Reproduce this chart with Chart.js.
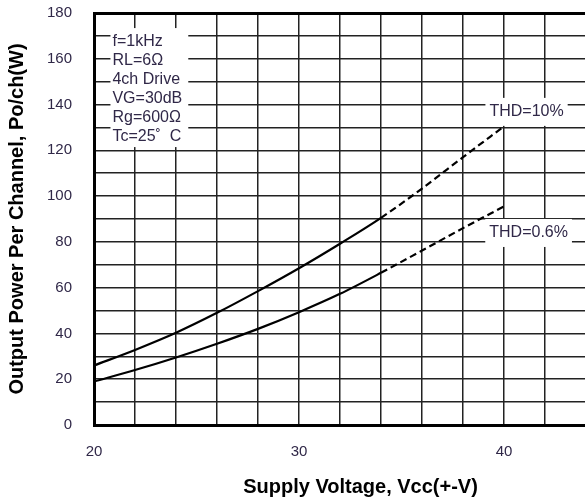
<!DOCTYPE html>
<html>
<head>
<meta charset="utf-8">
<script src="https://cdn.jsdelivr.net/npm/chart.js@4/dist/chart.umd.min.js"></script>
<style>
  html, body { margin: 0; padding: 0; background: #fff; overflow: hidden; }
  #wrap { position: absolute; left: 0; top: 0; width: 640px; height: 501px; }
</style>
</head>
<body>
<div id="wrap"><canvas id="powerChart" width="640" height="501"></canvas></div>
<script>
// Output power vs supply voltage
const voltage = [20, 22, 24, 26, 28, 30, 32, 34, 36, 38, 40];
const thd10 = [26, 32.8, 40.3, 49, 58.5, 68.5, 79.2, 90.5, 103.3, 117, 130.5];
const thd06 = [19, 24, 29.5, 35.5, 42, 49.3, 57.3, 66.5, 76.2, 86, 95.5];
const conditions = ['f=1kHz', 'RL=6\u03A9', '4ch Drive', 'VG=30dB', 'Rg=600\u03A9', 'Tc=25\u02DA  C'];
const curveLabels = ['THD=10%', 'THD=0.6%'];

const FONT = '"Liberation Sans", Arial, sans-serif';
const TEXT = '#302848';

// dashed part of the curves (measured region)
const dashFrom = 34;

function toPoints(ys) {
    return voltage.map((v, i) => ({ x: v, y: ys[i] }));
}

function curve(label, ys) {
    return {
        label: label,
        data: toPoints(ys),
        borderColor: '#000',
        borderWidth: 2.2,
        pointRadius: 0,
        fill: false,
        cubicInterpolationMode: 'monotone',
        segment: {
            borderDash: c => c.p0.parsed.x >= dashFrom ? [7, 4] : undefined
        }
    };
}

// text notes with white background over the grid
const notesPlugin = {
    id: 'notes',
    beforeDatasetsDraw(chart) {
        const { ctx, scales: { x, y } } = chart;
        ctx.save();
        ctx.font = '16px ' + FONT;
        ctx.textBaseline = 'middle';

        // conditions block
        const left = x.getPixelForValue(20.9);
        const top = y.getPixelForValue(167.3);
        const step = 19;
        let w = 0;
        conditions.forEach(t => { w = Math.max(w, ctx.measureText(t).width); });
        ctx.fillStyle = '#fff';
        ctx.fillRect(left - 2, top - 14, w + 8, step * (conditions.length - 1) + 24);
        ctx.fillStyle = TEXT;
        ctx.textAlign = 'left';
        conditions.forEach((t, i) => ctx.fillText(t, left, top + i * step));

        // curve labels
        const spots = [[41.1, 136.8], [41.2, 83.9]];
        ctx.textAlign = 'center';
        curveLabels.forEach((t, i) => {
            const cx = x.getPixelForValue(spots[i][0]);
            const cy = y.getPixelForValue(spots[i][1]);
            const tw = ctx.measureText(t).width;
            ctx.fillStyle = '#fff';
            ctx.fillRect(cx - tw / 2 - 4, cy - 14, tw + 8, 28);
            ctx.fillStyle = TEXT;
            ctx.fillText(t, cx, cy);
        });
        ctx.restore();
    }
};

const config = {
    type: 'line',
    data: {
        datasets: [curve('THD=10%', thd10), curve('THD=0.6%', thd06)]
    },
    options: {
        responsive: false,
        animation: false,
        devicePixelRatio: 1,
        layout: { padding: { left: 0, top: 13, right: 13, bottom: 0 } },
        plugins: {
            legend: { display: false },
            tooltip: { enabled: false }
        },
        scales: {
            x: {
                type: 'linear',
                min: 20,
                max: 46,
                afterFit: s => {
                    s.height = 76;
                    s.paddingLeft = 0;
                    s.paddingRight = 0;
                },
                grid: { color: '#222', lineWidth: 1.5, drawTicks: false },
                border: { color: '#000', width: 3 },
                ticks: {
                    stepSize: 2,
                    autoSkip: false,
                    maxRotation: 0,
                    padding: 18,
                    color: TEXT,
                    font: { family: FONT, size: 15 },
                    callback: v => v % 10 === 0 ? v : ''
                },
                title: {
                    display: true,
                    text: 'Supply Voltage, Vcc(+-V)',
                    color: '#000',
                    font: { family: FONT, size: 20, weight: 'bold' },
                    padding: { top: 0, bottom: 2 }
                }
            },
            y: {
                min: 0,
                max: 180,
                afterFit: s => {
                    s.width = 94;
                    s.paddingTop = 0;
                    s.paddingBottom = 0;
                },
                grid: {
                    color: c => c.tick && c.tick.value === 180 ? '#000' : '#222',
                    lineWidth: c => c.tick && c.tick.value === 180 ? 3 : 1.5,
                    drawTicks: false
                },
                border: { color: '#000', width: 3 },
                ticks: {
                    stepSize: 10,
                    padding: 22,
                    color: TEXT,
                    font: { family: FONT, size: 15 },
                    callback: v => v % 20 === 0 ? v : ''
                },
                title: {
                    display: true,
                    text: 'Output Power Per Channel, Po/ch(W)',
                    color: '#000',
                    font: { family: FONT, size: 20, weight: 'bold' },
                    padding: { top: 5, bottom: 0 }
                }
            }
        }
    },
    plugins: [notesPlugin]
};

window.addEventListener('load', () => {
    const el = document.getElementById('powerChart');
    if (!el) {
        console.error('Chart element not found!');
        return;
    }
    new Chart(el.getContext('2d'), config);
});
</script>
</body>
</html>
